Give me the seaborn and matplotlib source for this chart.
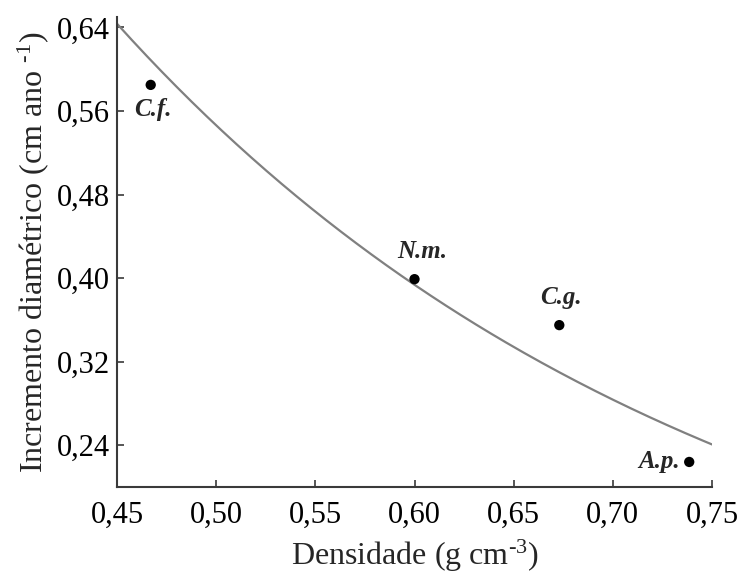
import numpy as np
import pandas as pd
import matplotlib
matplotlib.use("Agg")
import matplotlib.pyplot as plt
import seaborn as sns

# Species codes, wood density (g cm-3) and diameter increment (cm/yr)
species = ["C.f.", "N.m.", "C.g.", "A.p."]
densidade = [0.467, 0.600, 0.673, 0.7385]
incremento = [0.585, 0.399, 0.355, 0.224]

x_ticks = [0.45, 0.50, 0.55, 0.60, 0.65, 0.70, 0.75]
y_ticks = [0.24, 0.32, 0.40, 0.48, 0.56, 0.64]

df = pd.DataFrame({"especie": species, "densidade": densidade, "incremento": incremento})

sns.set_style("ticks")
plt.rcParams["font.family"] = ["Liberation Serif", "DejaVu Serif"]
plt.rcParams["mathtext.fontset"] = "custom"
plt.rcParams["mathtext.rm"] = "Liberation Serif"
plt.rcParams["mathtext.it"] = "Liberation Serif:italic"

fig = plt.figure(figsize=(7.39, 5.78), dpi=100)
ax = fig.add_axes([0.1583, 0.1574, 0.9635 - 0.1583, 0.9706 - 0.1574])

# Exponential fit y = a * exp(b x), least squares on log(y)
b, ln_a = np.polyfit(df["densidade"], np.log(df["incremento"]), 1)
xs = np.linspace(x_ticks[0], x_ticks[-1], 200)
fit = pd.DataFrame({"x": xs, "y": np.exp(ln_a + b * xs)})
sns.lineplot(data=fit, x="x", y="y", ax=ax, color="#808080", linewidth=1.6)

sns.scatterplot(data=df, x="densidade", y="incremento", ax=ax,
                color="black", s=55, edgecolor="none", zorder=3)

offsets = {"C.f.": (2, -25), "N.m.": (8, 28), "C.g.": (2, 28), "A.p.": (-30, 0)}
for _, r in df.iterrows():
    ax.annotate(r["especie"], (r["densidade"], r["incremento"]),
                xytext=offsets[r["especie"]], textcoords="offset pixels",
                ha="center", va="center", fontsize=18,
                fontweight="bold", fontstyle="italic")

ax.set_xlim(0.45, 0.75)
ax.set_ylim(0.20, 0.65)
ax.set_xticks(x_ticks)
ax.set_xticklabels([f"{v:.2f}".replace(".", ",") for v in x_ticks])
ax.set_yticks(y_ticks)
ax.set_yticklabels([f"{v:.2f}".replace(".", ",") for v in y_ticks])

for side in ["top", "right"]:
    ax.spines[side].set_visible(False)
for side in ["left", "bottom"]:
    ax.spines[side].set_color("#3a3a3a")
    ax.spines[side].set_linewidth(1.5)
ax.tick_params(direction="in", length=5, width=1.2, color="#3a3a3a",
               labelsize=22, labelcolor="black")
ax.tick_params(axis="x", pad=10)
ax.tick_params(axis="y", pad=5)

ax.set_xlabel(r"Densidade (g cm$^{\text{-3}}$)", fontsize=23, labelpad=6)
ax.set_ylabel(r"Incremento diamétrico (cm ano $^{\text{-1}}$)", fontsize=23, labelpad=4)

fig.savefig("out.png", dpi=100)
